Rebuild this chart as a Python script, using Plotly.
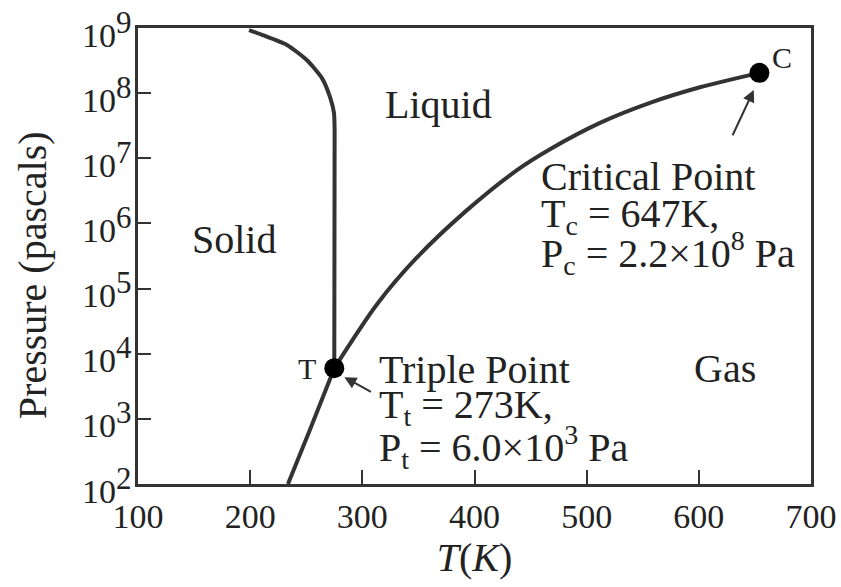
import plotly.graph_objects as go

# ---- data ----
melt_T = [199, 211.4, 232.8, 250.7, 264.0, 271.2, 274.7, 275.3, 275]
melt_P = [9.3e8, 7.8e8, 5.5e8, 3.2e8, 1.7e8, 8.7e7, 5.0e7, 2.7e7, 6.0e3]

sub_T = [233.7, 253.3, 275]
sub_P = [1.0e2, 6.8e2, 6.0e3]

vap_T = [275, 313.1, 348.7, 393.3, 437.9, 467.3, 511.9, 556.4, 601.0, 654]
vap_P = [6.0e3, 5.75e4, 3.0e5, 1.6e6, 6.6e6, 1.38e7, 3.5e7, 7.1e7, 1.23e8, 2.05e8]

point_T = [275, 654]
point_P = [6.0e3, 2.05e8]

x_ticks = [100, 200, 300, 400, 500, 600, 700]
y_exps = [2, 3, 4, 5, 6, 7, 8, 9]

region_labels = ["Liquid", "Solid", "Gas"]
region_T = [368, 186, 623]
region_logP = [7.82, 5.75, 3.77]

point_labels = ["T", "C"]
point_label_T = [251, 674]
point_label_logP = [3.78, 8.55]

crit_lines = ["Critical Point", "T<sub>c</sub> = 647K,", "P<sub>c</sub> = 2.2×10<sup>8</sup> Pa"]
crit_T = 457.5
crit_logP = [6.72, 6.11, 5.55]

trip_lines = ["Triple Point", "T<sub>t</sub> = 273K,", "P<sub>t</sub> = 6.0×10<sup>3</sup> Pa"]
trip_T = 313.5
trip_logP = [3.76, 3.18, 2.57]

# arrows: (tip T, tip logP, tail T, tail logP)
arrows = [(284, 3.64, 309, 3.40), (649, 8.05, 629.5, 7.33)]

FONT = "Liberation Serif"
INK = "#222222"
LINE = "#333333"

fig = go.Figure()
fig.add_trace(go.Scatter(x=melt_T, y=melt_P, mode="lines",
                         line=dict(color=LINE, width=4, shape="spline", smoothing=0.6),
                         showlegend=False, hoverinfo="skip"))
fig.add_trace(go.Scatter(x=sub_T, y=sub_P, mode="lines",
                         line=dict(color=LINE, width=4, shape="spline", smoothing=0.6),
                         showlegend=False, hoverinfo="skip"))
fig.add_trace(go.Scatter(x=vap_T, y=vap_P, mode="lines",
                         line=dict(color=LINE, width=4, shape="spline", smoothing=0.8),
                         showlegend=False, hoverinfo="skip"))
fig.add_trace(go.Scatter(x=point_T, y=point_P, mode="markers",
                         marker=dict(color="black", size=20),
                         showlegend=False, hoverinfo="skip", cliponaxis=False))

for t, x, y in zip(region_labels, region_T, region_logP):
    fig.add_annotation(x=x, y=y, xref="x", yref="y", text=t, showarrow=False,
                       xanchor="center", yanchor="middle",
                       font=dict(family=FONT, size=40, color=INK))
for t, x, y in zip(point_labels, point_label_T, point_label_logP):
    fig.add_annotation(x=x, y=y, xref="x", yref="y", text=t, showarrow=False,
                       xanchor="center", yanchor="middle",
                       font=dict(family=FONT, size=30, color=INK))
for t, y in zip(crit_lines, crit_logP):
    fig.add_annotation(x=crit_T, y=y, xref="x", yref="y", text=t, showarrow=False,
                       xanchor="left", yanchor="middle",
                       font=dict(family=FONT, size=40, color=INK))
for t, y in zip(trip_lines, trip_logP):
    fig.add_annotation(x=trip_T, y=y, xref="x", yref="y", text=t, showarrow=False,
                       xanchor="left", yanchor="middle",
                       font=dict(family=FONT, size=40, color=INK))
for (tx, ty, ax, ay) in arrows:
    fig.add_annotation(x=tx, y=ty, xref="x", yref="y", ax=ax, ay=ay, axref="x", ayref="y",
                       text="", showarrow=True, arrowhead=2, arrowsize=1.2,
                       arrowwidth=2, arrowcolor=LINE)

# y tick labels (placed on the log scale: annotation y is log10 of the value)
for e in y_exps:
    fig.add_annotation(x=-0.006, y=e, xref="paper", yref="y",
                       text="10<sup><span style='font-size:31px'>%d</span></sup>" % e,
                       showarrow=False, xanchor="right", yanchor="middle", yshift=-1,
                       font=dict(family=FONT, size=34, color=INK))

fig.update_xaxes(range=[100, 700], tickvals=x_ticks, ticktext=[str(v) for v in x_ticks],
                 ticks="inside", ticklen=14, tickwidth=2, tickcolor=LINE,
                 showline=True, linewidth=3, linecolor=LINE, mirror=True,
                 showgrid=False, zeroline=False, automargin=False,
                 tickfont=dict(family=FONT, size=34, color=INK),
                 title=dict(text="<i>T</i>(<i>K</i>)", font=dict(family=FONT, size=40, color=INK), standoff=8))
fig.update_yaxes(type="log", range=[2, 9], tickvals=[10 ** e for e in y_exps],
                 showticklabels=False,
                 ticks="inside", ticklen=13, tickwidth=2, tickcolor=LINE,
                 showline=True, linewidth=3, linecolor=LINE, mirror=True,
                 showgrid=False, zeroline=False, automargin=False)

fig.add_annotation(x=-0.1575, y=0.458, xref="paper", yref="paper", text="Pressure (pascals)",
                   showarrow=False, textangle=-90, xanchor="center", yanchor="middle",
                   font=dict(family=FONT, size=40, color=INK))

fig.update_layout(width=841, height=587, margin=dict(l=138, r=30, t=28, b=103),
                  plot_bgcolor="white", paper_bgcolor="white")
fig.write_html("out.html")
